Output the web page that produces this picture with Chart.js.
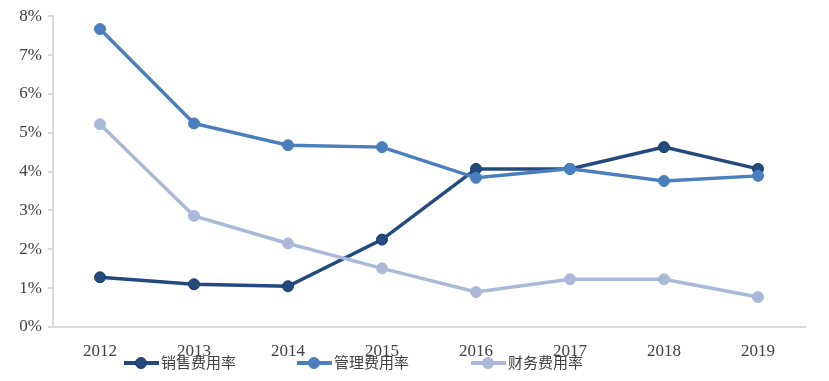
<!DOCTYPE html>
<html><head><meta charset="utf-8">
<script src="https://cdn.jsdelivr.net/npm/chart.js@4"></script>
<style>
html,body{margin:0;padding:0;background:#fff;}
#wrap{position:relative;width:829px;height:381px;}
#legend{position:absolute;top:351px;left:0;width:829px;height:24px;font-family:"Liberation Serif","Noto Sans CJK SC",serif;font-size:15px;color:#404040;}
.item{position:absolute;top:0;height:24px;line-height:24px;white-space:nowrap;}
.sw{position:absolute;top:10px;width:35px;height:4px;}
.dot{position:absolute;top:6px;width:12px;height:12px;border-radius:50%;}
.lt{position:absolute;left:37px;top:0;}
</style></head><body>
<div id="wrap"><canvas id="c" width="829" height="381"></canvas><div id="legend"></div></div>
<script>
const categories = ["2012","2013","2014","2015","2016","2017","2018","2019"];
const seriesNames = ["销售费用率","管理费用率","财务费用率"];
const sales = [1.28,1.10,1.05,2.25,4.07,4.07,4.63,4.07];
const admin = [7.67,5.24,4.68,4.63,3.84,4.07,3.76,3.89];
const finance = [5.22,2.86,2.15,1.51,0.90,1.23,1.23,0.77];
const yTicks = [0,1,2,3,4,5,6,7,8];
const colors = ["#234a7f","#4a7ebd","#abb9d8"];
const borders = ["#1b3c69","#4a7ebd","#abb9d8"];
const data = [sales, admin, finance];
const legendX = [124, 297, 471];

const ds = data.map((d,i)=>({
  label: seriesNames[i], data: d,
  borderColor: colors[i], backgroundColor: colors[i],
  pointBackgroundColor: colors[i], pointBorderColor: borders[i], pointBorderWidth: 1,
  borderWidth: 3.5, pointRadius: 5.5, tension: 0
}));

new Chart(document.getElementById('c'), {
  type: 'line',
  data: { labels: categories, datasets: ds.slice().reverse() },
  options: {
    responsive: false, animation: false,
    layout: { padding: { top: 14, right: 24, left: 0, bottom: 0 } },
    plugins: { legend: { display: false }, tooltip: { enabled: false } },
    scales: {
      x: {
        offset: true,
        grid: { display: true, drawOnChartArea: false, drawTicks: false },
        border: { color: '#d9d9d9', width: 2 },
        ticks: { padding: 14, color: '#404040', font: { family: 'Liberation Serif', size: 17 } , maxRotation: 0},
        afterFit: s => { s.height = 54; }
      },
      y: {
        min: 0, max: 8,
        afterBuildTicks: s => { s.ticks = yTicks.map(v=>({value:v})); },
        grid: { display: true, drawOnChartArea: false, drawTicks: true, tickLength: 5, color: '#d9d9d9', lineWidth: 2 },
        border: { color: '#d9d9d9', width: 2 },
        ticks: { padding: 6, color: '#404040', font: { family: 'Liberation Serif', size: 17 }, callback: v => v + '%' },
        afterFit: s => { s.width = 53; }
      }
    }
  }
});

const lg = document.getElementById('legend');
seriesNames.forEach((n,i)=>{
  const it = document.createElement('div'); it.className='item'; it.style.left = legendX[i]+'px';
  it.innerHTML = '<div class="sw" style="background:'+colors[i]+'"></div><div class="dot" style="left:11px;background:'+colors[i]+';box-sizing:border-box;border:1px solid '+borders[i]+'"></div><span class="lt">'+n+'</span>';
  lg.appendChild(it);
});
</script>
</body></html>
